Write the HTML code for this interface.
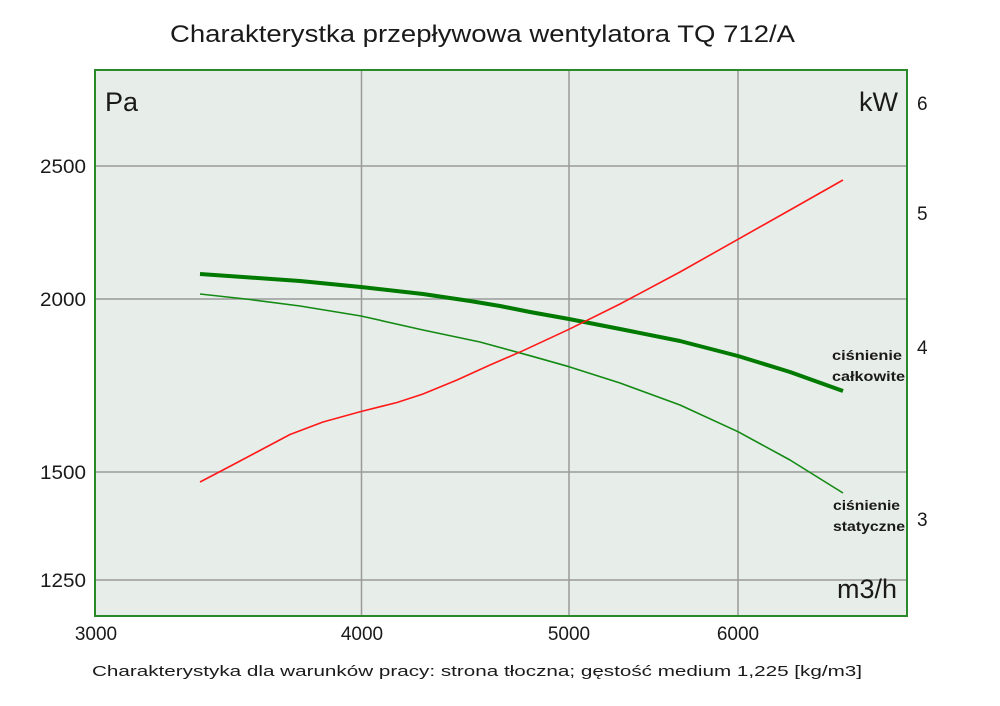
<!DOCTYPE html>
<html><head><meta charset="utf-8"><style>
html,body{margin:0;padding:0;background:#fff;}
svg{display:block;}
text{font-family:"Liberation Sans",sans-serif;fill:#1a1a1a;}
</style></head><body>
<svg width="1000" height="706" viewBox="0 0 1000 706" xmlns="http://www.w3.org/2000/svg">
<rect x="0" y="0" width="1000" height="706" fill="#fff"/>
<text x="170" y="42" font-size="24" textLength="625" lengthAdjust="spacingAndGlyphs">Charakterystka przepływowa wentylatora TQ 712/A</text>
<rect x="95" y="70" width="812" height="546" fill="#e7ede9"/>
<g stroke="#9a9a9a" stroke-width="1.5">
<line x1="95" y1="166" x2="907" y2="166"/>
<line x1="95" y1="299" x2="907" y2="299"/>
<line x1="95" y1="472" x2="907" y2="472"/>
<line x1="95" y1="580" x2="907" y2="580"/>
<line x1="361.5" y1="70" x2="361.5" y2="616"/>
<line x1="569" y1="70" x2="569" y2="616"/>
<line x1="738" y1="70" x2="738" y2="616"/>
</g>
<rect x="95" y="70" width="812" height="546" fill="none" stroke="#2a8a2a" stroke-width="2"/>
<text x="105" y="111" font-size="27">Pa</text>
<text x="898" y="111" font-size="27" text-anchor="end">kW</text>
<text x="897" y="598" font-size="27" text-anchor="end">m3/h</text>
<g font-size="19" text-anchor="end">
<text x="86" y="173" textLength="46" lengthAdjust="spacingAndGlyphs">2500</text>
<text x="86" y="306" textLength="46" lengthAdjust="spacingAndGlyphs">2000</text>
<text x="86" y="479" textLength="46" lengthAdjust="spacingAndGlyphs">1500</text>
<text x="86" y="587" textLength="46" lengthAdjust="spacingAndGlyphs">1250</text>
</g>
<g font-size="19">
<text x="917" y="110">6</text>
<text x="917" y="220">5</text>
<text x="917" y="354">4</text>
<text x="917" y="526">3</text>
</g>
<g font-size="19" text-anchor="middle">
<text x="96" y="640">3000</text>
<text x="362" y="640">4000</text>
<text x="569" y="640">5000</text>
<text x="738" y="640">6000</text>
</g>
<g font-size="14" font-weight="bold" fill="#222">
<text x="832" y="360" textLength="70" lengthAdjust="spacingAndGlyphs">ciśnienie</text>
<text x="832" y="381" textLength="73" lengthAdjust="spacingAndGlyphs">całkowite</text>
<text x="833" y="510" textLength="67" lengthAdjust="spacingAndGlyphs">ciśnienie</text>
<text x="833" y="531" textLength="72" lengthAdjust="spacingAndGlyphs">statyczne</text>
</g>
<polyline fill="none" stroke="#007a00" stroke-width="4" stroke-linejoin="round" points="200,274 250,277.5 300,281 361,287 423,294 470,301 500,306 530,312 569,319 620,329 680,341 738,356 790,372 843,391"/>
<polyline fill="none" stroke="#138a13" stroke-width="1.6" stroke-linejoin="round" points="200,294 250,299.5 300,306 361,316 423,330 480,342 530,355.7 569,366.7 620,383 680,405 738,431.7 790,460 843,493"/>
<polyline fill="none" stroke="#ff1a1a" stroke-width="1.6" stroke-linejoin="round" points="200,482 223,470 257,452 290,434.5 323,422 361,411.5 397,402.5 423,394 457,380 490,365 523,350.7 569,329.3 620,304 680,272 738,239.3 790,210 843,180"/>
<text x="92" y="676" font-size="15" textLength="770" lengthAdjust="spacingAndGlyphs">Charakterystyka dla warunków pracy: strona tłoczna; gęstość medium 1,225 [kg/m3]</text>
</svg>
</body></html>
